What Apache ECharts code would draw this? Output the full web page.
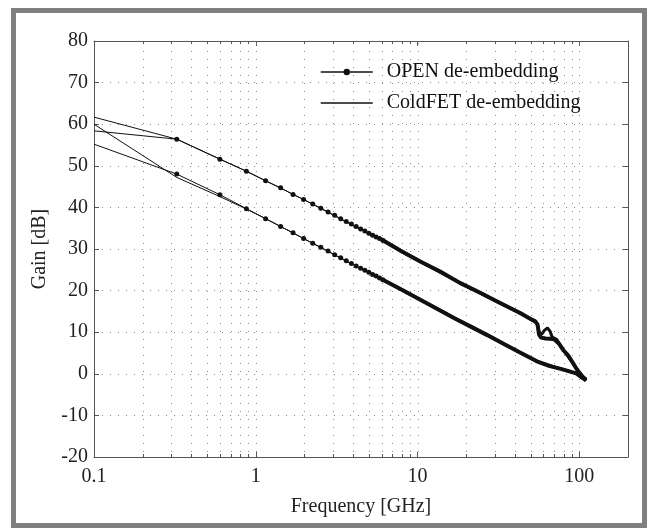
<!DOCTYPE html>
<html><head><meta charset="utf-8">
<script src="https://cdn.jsdelivr.net/npm/echarts@6/dist/echarts.min.js"></script>
<style>html,body{margin:0;padding:0;background:#fff}#c{width:648px;height:531px}</style>
</head><body><div id="c"></div>
<script>
// ---------- data ----------
const xTickLabels = ['0.1', '1', '10', '100'];
const gridFreqs = [0.2,0.3,0.4,0.5,0.6,0.7,0.8,0.9,1,2,3,4,5,6,7,8,9,10,20,30,40,50,60,70,80,90,100];

// OPEN de-embedding, low-frequency sweep points (markers visible)
const fLow = [0.1,0.325,0.6,0.875,1.15,1.425,1.7,1.975,2.25,2.525,2.8,3.075,3.35,3.625,3.9,4.175,4.45,4.725,5.0,5.275,5.55,5.825,6.1];
const openUpperLow = [58.4,56.4,51.6,48.7,46.4,44.7,43.1,41.9,40.8,39.8,38.9,38.1,37.3,36.6,36.0,35.4,34.8,34.3,33.8,33.3,32.9,32.5,32.1];
const openLowerLow = [55.2,48.0,43.05,39.7,37.3,35.4,33.9,32.5,31.4,30.4,29.5,28.6,27.9,27.2,26.5,25.9,25.4,24.9,24.4,23.9,23.5,23.0,22.6];

// OPEN de-embedding, high-frequency part (dense markers -> thick trace)
const fHighUpper = [6.1,8,10.4,13.8,18.4,24.4,32.4,43.1,50,53.4,55.2,56.4,58,62,66,70,75,80,85,90,95,100,105,110];
const openUpperHigh = [32.1,29.4,27.0,24.6,21.8,19.5,17.0,14.6,13.2,12.6,11.8,9.4,8.7,8.5,8.4,8.3,7.2,5.6,4.5,3.0,1.5,0.3,-0.8,-1.4];
const fHighLower = [6.1,8,10.4,13.8,17,21.2,27,34,43,54.7,65,79.8,90,95.8,102,108.6,110];
const openLowerHigh = [22.6,20.2,17.8,15.2,13.3,11.4,9.3,7.2,5.1,3.0,1.9,1.0,0.4,0.1,-0.7,-1.4,-1.6];

// ColdFET de-embedding
const fColdLow = [0.1,0.325,0.6,0.875,1.15,2,4,6.1];
const coldUpperLow = [61.7,56.4,51.6,48.7,46.4,41.8,35.6,32.1];
const coldLowerLow = [60.0,47.2,42.6,39.6,37.3,32.4,26.2,22.6];
const fColdHighUpper = [6.1,10.4,18.4,32.4,43.1,53.4,55.2,56.4,58.5,61,63.6,66,68,72.8,80,90,100,110];
const coldUpperHigh = [32.1,27.0,21.8,17.0,14.6,12.6,11.8,10.0,9.5,10.5,11.0,10.2,8.8,8.2,5.6,3.0,0.3,-1.4];
const fColdHighLower = [6.1,10.4,21.2,34,54.7,79.8,95.8,108.6,110];
const coldLowerHigh = [22.6,17.8,11.4,7.2,3.0,1.0,0.1,-1.4,-1.7];

// ---------- chart ----------
const FONT = 'Liberation Serif';
const INK = '#111';
const AX = '#555';
const pair = (fs, gs) => fs.map((f, i) => [f, gs[i]]);
const hideFirst = d => d.map((p, i) => i === 0 ? {value: p, symbol: 'none'} : p);
const OPEN = 'OPEN de-embedding', COLD = 'ColdFET de-embedding';

const chart = echarts.init(document.getElementById('c'), null, {renderer: 'canvas'});

const isMajor = v => Math.abs(Math.log10(v) - Math.round(Math.log10(v))) < 1e-6;

const lineBase = (name, data, width, sym) => ({
  name, type: 'line', data, xAxisIndex: 0, yAxisIndex: 0,
  symbol: sym ? 'circle' : 'none', symbolSize: 5, showSymbol: !!sym,
  lineStyle: {color: INK, width}, itemStyle: {color: INK},
  z: 5, animation: false, silent: true, clip: true
});

const option = {
  animation: false,
  backgroundColor: '#fff',
  textStyle: {fontFamily: FONT},
  graphic: [{
    type: 'rect', silent: true, z: 0,
    shape: {x: 13.5, y: 10.5, width: 631, height: 515},
    style: {fill: null, stroke: '#808080', lineWidth: 5}
  }],
  grid: {left: 94, right: 20, top: 41, bottom: 74, outerBoundsMode: 'none'},
  legend: {
    show: true, orient: 'vertical', left: 315, top: 56,
    itemWidth: 52, itemHeight: 8, itemGap: 9,
    data: [
      {name: OPEN, lineStyle: {color: INK, width: 1.5}},
      {name: COLD,
       itemStyle: {color: 'rgba(255,255,255,0)', borderColor: 'rgba(255,255,255,0)', borderWidth: 0},
       lineStyle: {color: INK, width: 1.5}}
    ],
    textStyle: {fontFamily: FONT, fontSize: 20, color: '#111', lineHeight: 22, padding: [0, 0, 0, 9]},
    selectedMode: false
  },
  xAxis: [{
    type: 'log', logBase: 10, min: 0.1, max: 200, position: 'bottom',
    axisLine: {show: true, onZero: false, lineStyle: {color: AX, width: 1}},
    axisTick: {show: true, inside: true, length: 5, lineStyle: {color: AX}},
    axisLabel: {
      show: true, fontFamily: FONT, fontSize: 20, color: '#222', margin: 10,
      formatter: v => isMajor(v) ? (xTickLabels[Math.round(Math.log10(v)) + 1] || '') : ''
    },
    splitLine: {show: false},
    name: 'Frequency [GHz]', nameLocation: 'middle', nameGap: 40,
    nameTextStyle: {fontFamily: FONT, fontSize: 20, color: '#222'}
  }, {
    type: 'log', logBase: 10, min: 0.1, max: 200, position: 'top',
    axisLine: {show: true, onZero: false, lineStyle: {color: AX, width: 1}},
    axisTick: {show: true, inside: true, length: 5, lineStyle: {color: AX}},
    axisLabel: {show: false}, splitLine: {show: false}
  }],
  yAxis: [{
    type: 'value', min: -20, max: 80, interval: 10, position: 'left',
    axisLine: {show: true, onZero: false, lineStyle: {color: AX, width: 1}},
    axisTick: {show: true, inside: true, length: 5, lineStyle: {color: AX}},
    axisLabel: {show: true, fontFamily: FONT, fontSize: 20, color: '#222', margin: 6},
    splitLine: {show: true, lineStyle: {color: '#8a8a8a', width: 1, type: [1, 7]}},
    name: 'Gain [dB]', nameLocation: 'middle', nameGap: 44, nameRotate: 90,
    nameTextStyle: {fontFamily: FONT, fontSize: 20, color: '#222'}
  }, {
    type: 'value', min: -20, max: 80, interval: 10, position: 'right',
    axisLine: {show: true, onZero: false, lineStyle: {color: AX, width: 1}},
    axisTick: {show: true, inside: true, length: 5, lineStyle: {color: AX}},
    axisLabel: {show: false}, splitLine: {show: false}
  }],
  series: [
    lineBase(OPEN, hideFirst(pair(fLow, openUpperLow)), 1, true),
    lineBase(OPEN, hideFirst(pair(fLow, openLowerLow)), 1, true),
    lineBase(OPEN, pair(fHighUpper, openUpperHigh), 4, false),
    lineBase(OPEN, pair(fHighLower, openLowerHigh), 4, false),
    lineBase(COLD, pair(fColdLow, coldUpperLow), 1, false),
    lineBase(COLD, pair(fColdLow, coldLowerLow), 1, false),
    lineBase(COLD, pair(fColdHighUpper, coldUpperHigh), 3, false),
    lineBase(COLD, pair(fColdHighLower, coldLowerHigh), 3, false),
    {
      type: 'custom', name: 'grid', xAxisIndex: 0, yAxisIndex: 0, silent: true, z: 1,
      animation: false,
      data: gridFreqs.map(f => [f, -20]),
      encode: {x: 0, y: 1},
      renderItem: (params, api) => {
        const f = api.value(0);
        const top = api.coord([f, 80]);
        const bot = api.coord([f, -20]);
        const x = Math.round(top[0]) + 0.5;
        const children = [{
          type: 'line', shape: {x1: x, y1: top[1] + 2, x2: x, y2: bot[1] - 2},
          style: {stroke: '#8a8a8a', lineWidth: 1, lineDash: [1, 7]}
        }];
        if (!isMajor(f)) {
          children.push({type: 'line', shape: {x1: x, y1: bot[1], x2: x, y2: bot[1] - 3}, style: {stroke: AX, lineWidth: 1}});
          children.push({type: 'line', shape: {x1: x, y1: top[1], x2: x, y2: top[1] + 3}, style: {stroke: AX, lineWidth: 1}});
        }
        return {type: 'group', children};
      }
    }
  ]
};
chart.setOption(option);
</script>
</body></html>
